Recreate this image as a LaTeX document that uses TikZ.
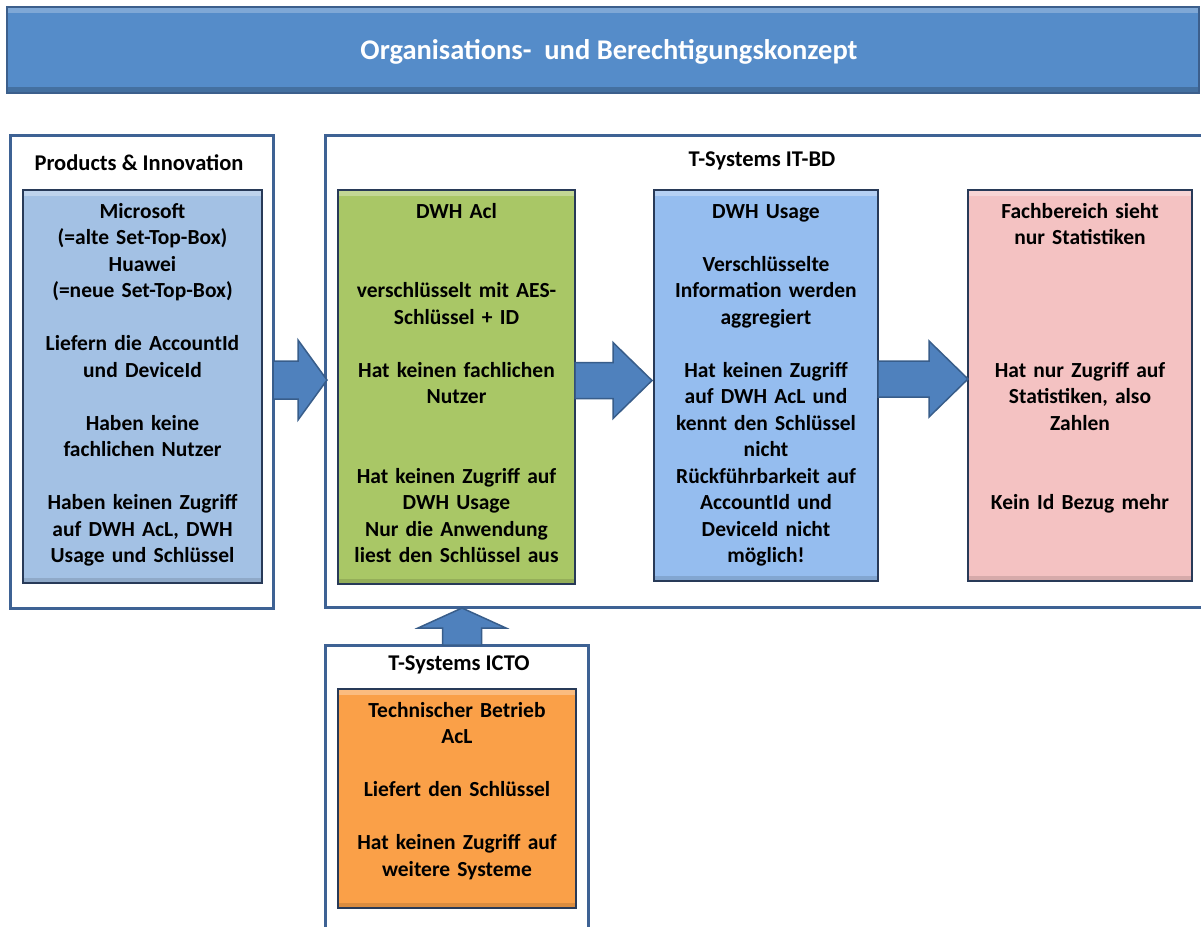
\documentclass[tikz,border=0pt]{standalone}
\usepackage{fontspec}
\setmainfont{Carlito}
\usetikzlibrary{calc}
\definecolor{titlefill}{RGB}{85,140,201}
\definecolor{titleline}{RGB}{60,95,140}
\definecolor{frameline}{RGB}{62,98,148}
\definecolor{boxline}{RGB}{40,58,88}
\definecolor{pifill}{RGB}{163,193,228}
\definecolor{aclfill}{RGB}{169,199,102}
\definecolor{usagefill}{RGB}{149,189,239}
\definecolor{fachfill}{RGB}{244,194,194}
\definecolor{techfill}{RGB}{250,160,72}
\definecolor{arrowfill}{RGB}{79,129,189}
\definecolor{arrowline}{RGB}{56,93,138}
\begin{document}
\begin{tikzpicture}[x=1pt,y=-1pt,
 frame/.style={draw=frameline, line width=3pt, fill=white, rectangle, inner sep=0pt, outer sep=0pt},
 cbox/.style={draw=boxline, line width=2.5pt, rectangle, inner sep=0pt, outer sep=0pt,
   path picture={\fill[white,opacity=0.3] (path picture bounding box.north west) rectangle ([yshift=-6pt]path picture bounding box.north east);
                 \fill[black,opacity=0.12] (path picture bounding box.south west) rectangle ([yshift=5pt]path picture bounding box.south east);}},
 btext/.style={anchor=north, inner sep=0pt, align=center, font=\fontsize{21.5}{26.5}\selectfont\bfseries},
 lbl/.style={inner sep=0pt, font=\fontsize{22.5}{26}\selectfont\bfseries},
 barrow/.style={fill=arrowfill, draw=arrowline, line width=1.5pt, line join=miter}]
\useasboundingbox (0,0) rectangle (1201,926);
\clip (0,0) rectangle (1201,926);

% title bar
\node[draw=titleline, line width=2pt, fill=titlefill, rectangle, inner sep=0pt,
      minimum width=1192pt, minimum height=86pt,
      path picture={\fill[white,opacity=0.25] (path picture bounding box.north west) rectangle ([yshift=-6pt]path picture bounding box.north east);
                    \fill[black,opacity=0.2] (path picture bounding box.south west) rectangle ([yshift=6pt]path picture bounding box.south east);}] (title) at (603,50) {};
\node[inner sep=0pt, text=white, font=\fontsize{28.5}{32}\selectfont\bfseries] (ttl) at (609,52)
      {Organisations-\ \ und Berechtigungskonzept};

% frames
\node[frame, minimum width=263pt, minimum height=473pt] (pio) at (141.5,371.5) {};
\node[frame, minimum width=890pt, minimum height=472pt] (itbd) at (770,371) {};
\node[frame, minimum width=263pt, minimum height=295pt] (icto) at (456.5,792.5) {};

\node[lbl] (lpi) at (139,163) {Products \& Innovation};
\node[lbl] (lit) at (762,161) {T-Systems IT-BD};
\node[lbl] (licto) at (459,665) {T-Systems ICTO};

% coloured boxes
\node[cbox, fill=pifill, minimum width=239pt, minimum height=393pt] (bpi) at (142.5,386.5) {};
\node[cbox, fill=aclfill, minimum width=237pt, minimum height=394pt] (bacl) at (456.5,387) {};
\node[cbox, fill=usagefill, minimum width=224pt, minimum height=391pt] (buse) at (766,385.5) {};
\node[cbox, fill=fachfill, minimum width=224pt, minimum height=391pt] (bfach) at (1080,385.5) {};
\node[cbox, fill=techfill, minimum width=238pt, minimum height=219pt] (btech) at (457,798.5) {};

% texts
\node[btext, text width=235pt] (tpi) at ([yshift=-9.5pt]bpi.north) {\strut Microsoft\\
(=alte Set-Top-Box)\\ Huawei\\ (=neue Set-Top-Box)\\ ~\\ Liefern die AccountId\\ und DeviceId\\ ~\\
Haben keine\\ fachlichen Nutzer\\ ~\\ Haben keinen Zugriff\\ auf DWH AcL, DWH\\ Usage und Schlüssel};
\node[btext, text width=233pt] (tacl) at ([yshift=-9.5pt]bacl.north) {\strut DWH Acl\\ ~\\ ~\\
verschlüsselt mit AES-\\ Schlüssel + ID\\ ~\\ Hat keinen fachlichen\\ Nutzer\\ ~\\ ~\\
Hat keinen Zugriff auf\\ DWH Usage\\ Nur die Anwendung\\ liest den Schlüssel aus};
\node[btext, text width=222pt] (tuse) at ([yshift=-9.5pt]buse.north) {\strut DWH Usage\\ ~\\
Verschlüsselte\\ Information werden\\ aggregiert\\ ~\\ Hat keinen Zugriff\\ auf DWH AcL und\\
kennt den Schlüssel\\ nicht\\ Rückführbarkeit auf\\ AccountId und\\ DeviceId nicht\\ möglich!};
\node[btext, text width=222pt] (tfach) at ([yshift=-9.5pt]bfach.north) {\strut Fachbereich sieht\\
nur Statistiken\\ ~\\ ~\\ ~\\ ~\\ Hat nur Zugriff auf\\ Statistiken, also\\ Zahlen\\ ~\\ ~\\
Kein Id Bezug mehr};
\node[btext, text width=236pt] (ttech) at ([yshift=-9.5pt]btech.north) {\strut Technischer Betrieb\\
AcL\\ ~\\ Liefert den Schlüssel\\ ~\\ Hat keinen Zugriff auf\\ weitere Systeme};

% block arrows
\coordinate (a1) at ([yshift=-8.5pt]pio.east);
\coordinate (a2) at ([yshift=6.5pt]bacl.east);
\coordinate (a3) at ([yshift=6.5pt]buse.east);
\coordinate (a4) at ([xshift=5.5pt]icto.north);
\draw[barrow] (a1) ++(0,-19) -- ++(25,0) -- ++(0,-21) -- ++(29,40) -- ++(-29,40) -- ++(0,-21) -- ++(-25,0) -- cycle;
\draw[barrow] (a2) ++(0,-18) -- ++(38,0) -- ++(0,-20) -- ++(39,38) -- ++(-39,38) -- ++(0,-20) -- ++(-38,0) -- cycle;
\draw[barrow] (a3) ++(0,-18) -- ++(51,0) -- ++(0,-20) -- ++(39,38) -- ++(-39,38) -- ++(0,-20) -- ++(-51,0) -- cycle;
\draw[barrow] (a4) ++(-19.5,0) -- ++(0,-17) -- ++(-24.5,0) -- ++(44,-20) -- ++(44,20) -- ++(-24.5,0) -- ++(0,17) -- cycle;
\end{tikzpicture}
\end{document}
